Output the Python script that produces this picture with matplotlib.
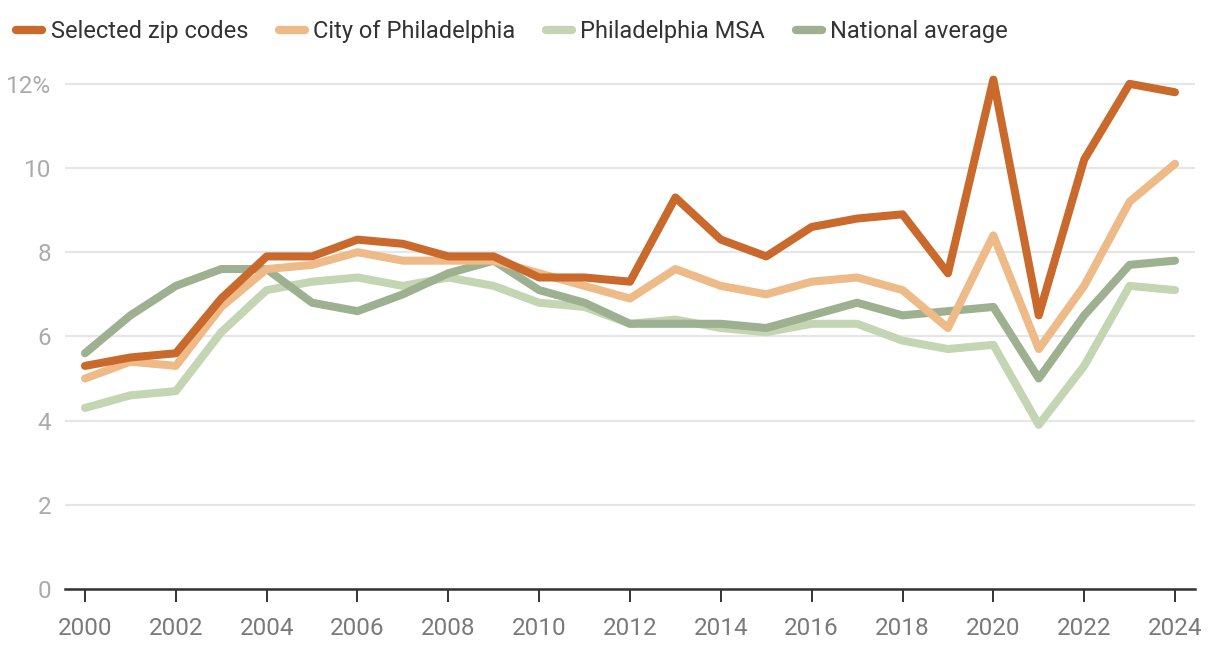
import matplotlib
matplotlib.use("Agg")
import matplotlib.pyplot as plt
from matplotlib.ticker import FuncFormatter

years = list(range(2000, 2025))

selected = [5.3, 5.5, 5.6, 6.9, 7.9, 7.9, 8.3, 8.2, 7.9, 7.9, 7.4, 7.4, 7.3,
            9.3, 8.3, 7.9, 8.6, 8.8, 8.9, 7.5, 12.1, 6.5, 10.2, 12.0, 11.8]
city = [5.0, 5.4, 5.3, 6.7, 7.6, 7.7, 8.0, 7.8, 7.8, 7.8, 7.5, 7.2, 6.9,
        7.6, 7.2, 7.0, 7.3, 7.4, 7.1, 6.2, 8.4, 5.7, 7.2, 9.2, 10.1]
msa = [4.3, 4.6, 4.7, 6.1, 7.1, 7.3, 7.4, 7.2, 7.4, 7.2, 6.8, 6.7, 6.3,
       6.4, 6.2, 6.1, 6.3, 6.3, 5.9, 5.7, 5.8, 3.9, 5.3, 7.2, 7.1]
national = [5.6, 6.5, 7.2, 7.6, 7.6, 6.8, 6.6, 7.0, 7.5, 7.8, 7.1, 6.8, 6.3,
            6.3, 6.3, 6.2, 6.5, 6.8, 6.5, 6.6, 6.7, 5.0, 6.5, 7.7, 7.8]

series_names = ["Selected zip codes", "City of Philadelphia",
                "Philadelphia MSA", "National average"]
colors = ["#c9692c", "#edba88", "#c3d5b3", "#9db08f"]

plt.rcParams['font.family'] = ['Roboto', 'DejaVu Sans']

fig = plt.figure(figsize=(12.2, 6.5), dpi=100)
ax = fig.add_axes([65 / 1220, 1 - 589 / 650, 1130 / 1220, 522 / 650])

data = [selected, city, msa, national]
zorders = [5, 4, 2, 3]
handles = []
for vals, name, c, z in zip(data, series_names, colors, zorders):
    ln, = ax.plot(years, vals, color=c, lw=5.8, label=name, zorder=z,
                  solid_capstyle='round', solid_joinstyle='round')
    handles.append(ln)

ax.set_xlim(1999.56, 2024.44)
ax.set_ylim(0, 12.4)
ax.set_xticks(range(2000, 2025, 2))
ax.set_yticks(range(0, 13, 2))
ax.yaxis.set_major_formatter(FuncFormatter(lambda v, p: f"{int(v)}%" if v == 12 else f"{int(v)}"))

ax.grid(axis='y', color='#e6e6e6', lw=1.6, zorder=0)
ax.set_axisbelow(True)
for s in ['top', 'right', 'left']:
    ax.spines[s].set_visible(False)
ax.spines['bottom'].set_color('#333333')
ax.spines['bottom'].set_linewidth(1.8)
ax.spines['bottom'].set_zorder(6)

ax.tick_params(axis='x', length=9, width=1.4, color='#333333', labelcolor='#7a7a7a',
               labelsize=17.5, pad=11)
ax.tick_params(axis='y', length=0, labelcolor='#ababab', labelsize=17.5, pad=10)

leg = fig.legend(handles=handles, loc='upper left', bbox_to_anchor=(-0.004, 1.002),
                 ncol=4, frameon=False, fontsize=17, handlelength=1.1,
                 handletextpad=0.35, columnspacing=1.3)
for t in leg.get_texts():
    t.set_color('#333333')
for h in leg.legend_handles:
    h.set_linewidth(6)
    h.set_solid_capstyle('round')

fig.savefig("out.png", dpi=100)
